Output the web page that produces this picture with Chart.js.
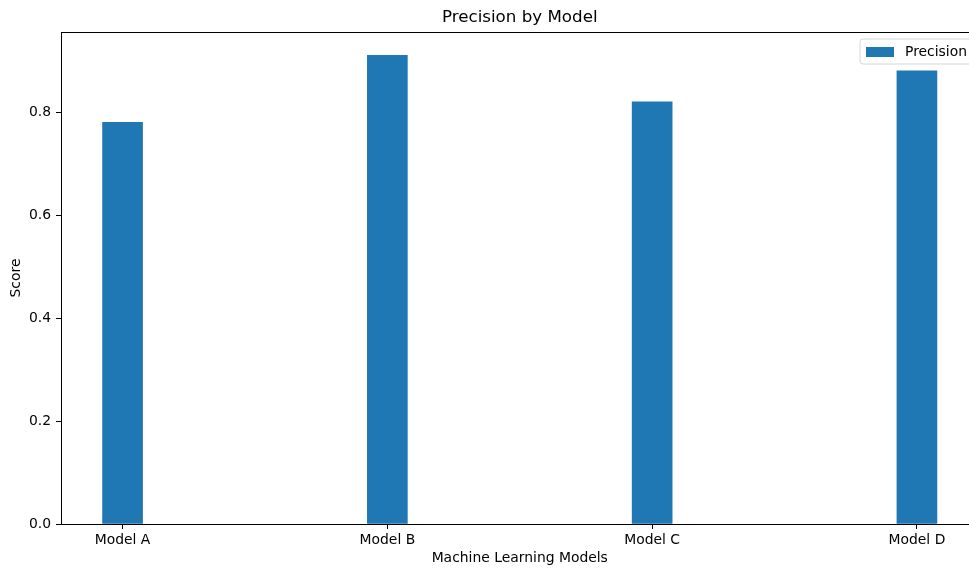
<!DOCTYPE html>
<html>
<head>
<meta charset="utf-8">
<script src="https://cdn.jsdelivr.net/npm/chart.js@4.4.0/dist/chart.umd.min.js"></script>
<style>
  html, body { margin: 0; padding: 0; background: #fff; overflow: hidden; }
  #wrap { width: 1000px; height: 568px; }
</style>
</head>
<body>
<div id="wrap"><canvas id="chart" width="1000" height="568"></canvas></div>
<script>
var categories = ['Model A', 'Model B', 'Model C', 'Model D'];
var precision = [0.78, 0.91, 0.82, 0.88];
var yTicks = [0.0, 0.2, 0.4, 0.6, 0.8];

var FONT = 'DejaVu Sans';
var blue = '#1f77b4';

// matplotlib-like frame, title, axis labels and legend
var mplDecor = {
    id: 'mplDecor',
    afterDatasetsDraw: function(chart) {
        var ctx = chart.ctx;
        var a = chart.chartArea;
        ctx.save();
        ctx.strokeStyle = '#000';
        ctx.lineWidth = 1;
        ctx.strokeRect(Math.round(a.left) + 0.5, Math.round(a.top) + 0.5,
            Math.round(a.right - a.left), Math.round(a.bottom - a.top));

        var cx = (a.left + a.right) / 2;
        ctx.fillStyle = '#000';
        ctx.textAlign = 'center';
        ctx.textBaseline = 'middle';
        ctx.font = '16.7px "' + FONT + '"';
        ctx.fillText('Precision by Model', cx, 18);

        ctx.font = '13.9px "' + FONT + '"';
        ctx.fillText('Machine Learning Models', cx, 558);

        ctx.save();
        ctx.translate(16, (a.top + a.bottom) / 2);
        ctx.rotate(-Math.PI / 2);
        ctx.fillText('Score', 0, 0);
        ctx.restore();

        // legend box
        var lx = 860, ly = 39, lw = 116, lh = 25;
        ctx.beginPath();
        var r = 3;
        ctx.moveTo(lx + r, ly);
        ctx.lineTo(lx + lw - r, ly);
        ctx.arcTo(lx + lw, ly, lx + lw, ly + r, r);
        ctx.lineTo(lx + lw, ly + lh - r);
        ctx.arcTo(lx + lw, ly + lh, lx + lw - r, ly + lh, r);
        ctx.lineTo(lx + r, ly + lh);
        ctx.arcTo(lx, ly + lh, lx, ly + lh - r, r);
        ctx.lineTo(lx, ly + r);
        ctx.arcTo(lx, ly, lx + r, ly, r);
        ctx.closePath();
        ctx.fillStyle = 'rgba(255,255,255,0.8)';
        ctx.fill();
        ctx.strokeStyle = '#d6d6d6';
        ctx.lineWidth = 1;
        ctx.stroke();

        var ds = chart.data.datasets[0];
        ctx.fillStyle = ds.backgroundColor;
        ctx.fillRect(866, 47, 28, 10);
        ctx.fillStyle = '#000';
        ctx.textAlign = 'left';
        ctx.fillText(ds.label, 905, 52);
        ctx.restore();
    }
};

var points = precision.map(function(v, i) { return { x: i, y: v }; });

new Chart(document.getElementById('chart'), {
    type: 'bar',
    data: {
        datasets: [{
            label: 'Precision',
            data: points,
            backgroundColor: blue,
            borderWidth: 0,
            barThickness: 40
        }]
    },
    options: {
        responsive: false,
        animation: false,
        layout: { padding: { left: 0, top: 32, right: 21.5, bottom: 0 } },
        plugins: {
            legend: { display: false },
            title: { display: false },
            tooltip: { enabled: false }
        },
        scales: {
            x: {
                type: 'linear',
                min: -0.2325,
                max: 3.2325,
                offset: false,
                border: { display: false },
                grid: { offset: false, drawOnChartArea: false, drawTicks: true, tickLength: 5, color: '#000', lineWidth: 1 },
                afterBuildTicks: function(s) { s.ticks = categories.map(function(c, i) { return { value: i }; }); },
                ticks: {
                    autoSkip: false,
                    maxRotation: 0,
                    padding: 3,
                    color: '#000',
                    font: { family: FONT, size: 13.9 },
                    callback: function(v) { return categories[v]; }
                },
                afterFit: function(s) { s.height = 44; }
            },
            y: {
                min: 0,
                max: Math.max.apply(null, precision) * 1.05,
                border: { display: false },
                grid: { drawOnChartArea: false, drawTicks: true, tickLength: 5, color: '#000', lineWidth: 1 },
                afterBuildTicks: function(s) { s.ticks = yTicks.map(function(v) { return { value: v }; }); },
                ticks: {
                    padding: 5,
                    color: '#000',
                    font: { family: FONT, size: 13.9 },
                    callback: function(v) { return v.toFixed(1); }
                },
                afterFit: function(s) { s.width = 61; }
            }
        }
    },
    plugins: [mplDecor]
});
</script>
</body>
</html>
